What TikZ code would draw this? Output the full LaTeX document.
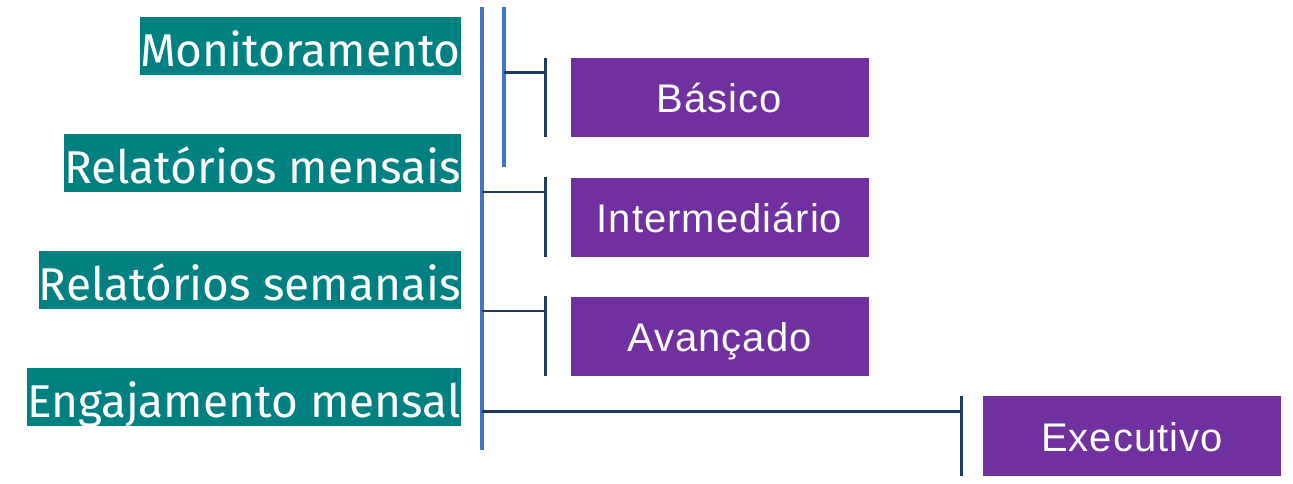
\documentclass[tikz,border=0pt]{standalone}
\usepackage{fontspec}
\setmainfont{Fira Sans}
\newfontfamily\boxfont[LetterSpace=2.5]{Liberation Sans}
\usetikzlibrary{calc}
\definecolor{tealc}{HTML}{008080}
\definecolor{purp}{HTML}{7030A0}
\definecolor{blu}{HTML}{4472C4}
\definecolor{navyc}{HTML}{1F3864}
\begin{document}
\begin{tikzpicture}[x=1pt,y=-1pt]
\useasboundingbox (0,0) rectangle (1293,483);
\tikzset{
 lab/.style={fill=tealc, text=white, inner xsep=0pt, inner ysep=0pt, minimum height=58pt, anchor=east, text height=40pt, text depth=0pt, font=\fontsize{46}{46}\selectfont},
 tier/.style={fill=purp, text=white, minimum width=298pt, minimum height=79pt, inner sep=0pt, text height=30pt, text depth=0pt, font=\boxfont\fontsize{40}{40}\selectfont},
 bar/.style={blu, line width=4pt},
 conn/.style={navyc, line width=2.8pt}
}
\node[lab] (mon) at (461,46) {Monitoramento};
\node[lab] (rm) at (461,163) {Relatórios mensais};
\node[lab] (rs) at (461,280) {Relatórios semanais};
\node[lab] (eng) at (461,397) {Engajamento mensal};

\node[tier] (bas) at (719.5,97.5) {Básico};
\node[tier] (int) at (719.5,217) {Intermediário};
\node[tier] (ava) at (719.5,336) {Avançado};
\node[tier, minimum height=80pt] (exe) at (1132,436) {Executivo};

\coordinate (b1t) at (482,7);
\coordinate (b1b) at (482,450);
\coordinate (b2t) at (504,7);
\coordinate (b2b) at (504,167);
\draw[bar] (b1t) -- (b1b);
\draw[bar] (b2t) -- (b2b);

\coordinate (k1t) at ($(bas.north west)+(-25,0)$);
\coordinate (k1b) at ($(bas.south west)+(-25,0)$);
\coordinate (k2t) at ($(int.north west)+(-25,0)$);
\coordinate (k2b) at ($(int.south west)+(-25,0)$);
\coordinate (k3t) at ($(ava.north west)+(-25,0)$);
\coordinate (k3b) at ($(ava.south west)+(-25,0)$);
\coordinate (k4t) at ($(exe.north west)+(-21,0)$);
\coordinate (k4b) at ($(exe.south west)+(-21,0)$);
\draw[conn] (k1t) -- (k1b);
\draw[conn] (k2t) -- (k2b);
\draw[conn] (k3t) -- (k3b);
\draw[conn] (k4t) -- (k4b);

\coordinate (h1a) at (504,72.7);
\coordinate (h2a) at (482,192);
\coordinate (h3a) at (482,311);
\coordinate (h4a) at (482,411.7);
\draw[conn] (h1a) -- (h1a -| k1t);
\draw[conn] (h2a) -- (h2a -| k2t);
\draw[conn] (h3a) -- (h3a -| k3t);
\draw[conn] (h4a) -- (h4a -| k4t);
\end{tikzpicture}
\end{document}
